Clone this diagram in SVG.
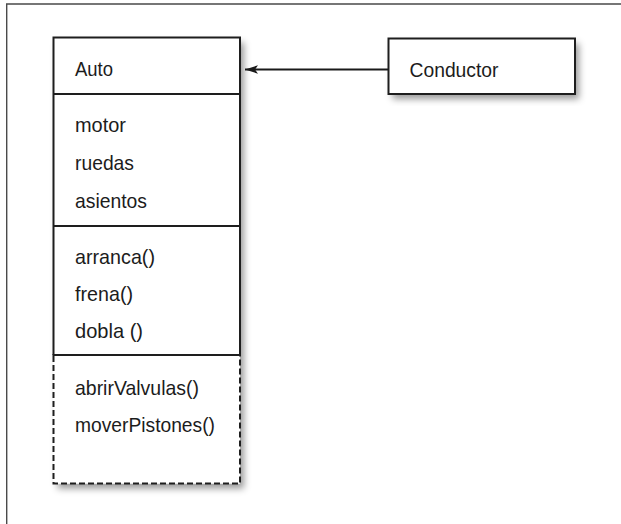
<svg xmlns="http://www.w3.org/2000/svg" width="621" height="524" viewBox="0 0 621 524">
  <defs>
    <filter id="shadow" x="-10%" y="-10%" width="130%" height="130%">
      <feDropShadow dx="4" dy="5" stdDeviation="3.5" flood-color="#000" flood-opacity="0.4"/>
    </filter>
    <marker id="arrow" markerWidth="14" markerHeight="10" refX="13" refY="5" orient="auto" markerUnits="userSpaceOnUse">
      <path d="M0,0.8 L13,5 L0,9.2 L3,5 Z" fill="#1a1a1a"/>
    </marker>
  </defs>
  <style>
    .frame { fill: none; stroke: #4a4a4a; stroke-width: 1.4; }
    .box { fill: #ffffff; filter: url(#shadow); }
    .edge { fill: none; stroke: #1e1e1e; stroke-width: 2; }
    .dash { fill: none; stroke: #1e1e1e; stroke-width: 2; stroke-dasharray: 6 3; }
    .label { font-family: "Liberation Sans", Arial, sans-serif; font-size: 21px; fill: #1c1c1c; }
    .conn { fill: none; stroke: #1a1a1a; stroke-width: 2; }
  </style>

  <rect width="621" height="524" fill="#ffffff"/>

  <!-- page frame, open on the right and bottom -->
  <path class="frame" d="M6.7,524 V4 H621"/>

  <g id="connectors">
    <line class="conn" x1="388" y1="69.5" x2="245" y2="69.5" marker-end="url(#arrow)"/>
  </g>

  <g id="node-auto">
    <rect class="box" x="53.5" y="37.5" width="186.5" height="446"/>
    <!-- solid compartments -->
    <path class="edge" d="M53.5,355 V37.5 H240 V355"/>
    <line class="edge" x1="53.5" y1="94" x2="240" y2="94"/>
    <line class="edge" x1="53.5" y1="226" x2="240" y2="226"/>
    <line class="edge" x1="52.5" y1="355" x2="241" y2="355"/>
    <!-- hidden operations compartment -->
    <path class="dash" d="M53.5,356 V483.5 H240 V356"/>

    <text class="label" x="75" y="76" textLength="38" lengthAdjust="spacingAndGlyphs">Auto</text>

    <text class="label" x="75" y="132" textLength="51" lengthAdjust="spacingAndGlyphs">motor</text>
    <text class="label" x="75" y="170" textLength="59" lengthAdjust="spacingAndGlyphs">ruedas</text>
    <text class="label" x="75" y="208" textLength="72" lengthAdjust="spacingAndGlyphs">asientos</text>

    <text class="label" x="75" y="264" textLength="80" lengthAdjust="spacingAndGlyphs">arranca()</text>
    <text class="label" x="75" y="301" textLength="58" lengthAdjust="spacingAndGlyphs">frena()</text>
    <text class="label" x="75" y="338" textLength="68" lengthAdjust="spacingAndGlyphs">dobla ()</text>

    <text class="label" x="75" y="395" textLength="124" lengthAdjust="spacingAndGlyphs">abrirValvulas()</text>
    <text class="label" x="75" y="432" textLength="140" lengthAdjust="spacingAndGlyphs">moverPistones()</text>
  </g>

  <g id="node-conductor">
    <rect class="box" x="388.5" y="38.5" width="186.5" height="55.5"/>
    <rect class="edge" x="388.5" y="38.5" width="186.5" height="55.5"/>
    <text class="label" x="409.5" y="76.5" textLength="89" lengthAdjust="spacingAndGlyphs">Conductor</text>
  </g>
</svg>
